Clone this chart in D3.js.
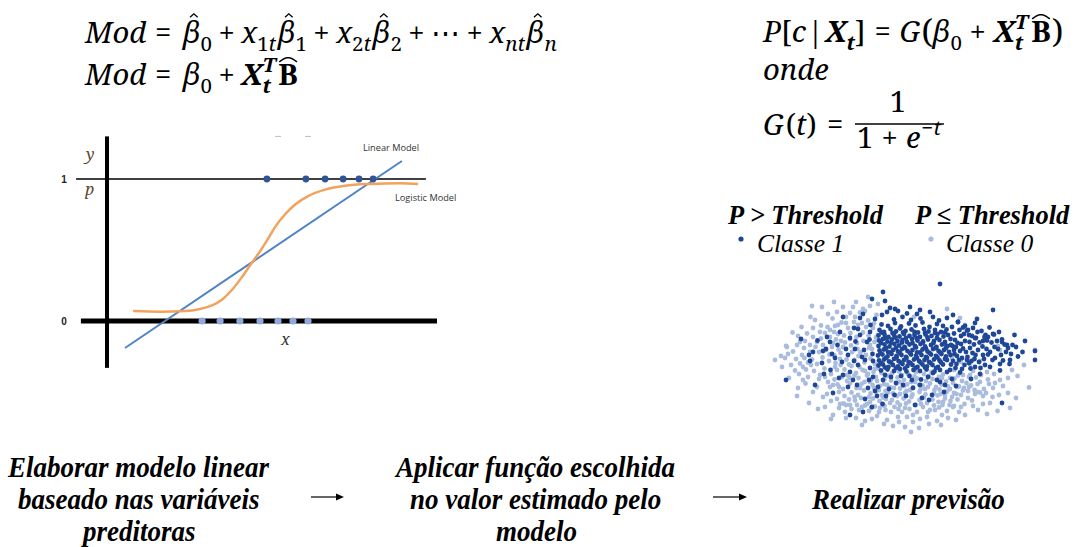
<!DOCTYPE html>
<html>
<head>
<meta charset="utf-8">
<script src="https://cdn.jsdelivr.net/npm/d3@7"></script>
<style>
  html, body { margin: 0; padding: 0; background: #fff; }
  #wrap { position: relative; width: 1075px; height: 547px; overflow: hidden; }
  #fig { position: absolute; left: 0; top: 0; display: block; }
  #txt { position: absolute; left: 0; top: 0; width: 1075px; height: 547px; }
  #txt span { position: absolute; white-space: pre; line-height: 1; }
</style>
</head>
<body>
<div id="wrap">
  <svg id="fig" width="1075" height="547"></svg>
  <div id="txt"></div>
</div>
<script>
// ---------- data ----------
// linear vs. logistic sketch (x in arbitrary units, y as probability)
const probTicks = [0, 1];
const linearFit = [[0.6, -0.19], [9.83, 1.127]];
const logisticFit = [
  [0.87, 0.07], [1.77, 0.066], [2.6, 0.07], [3.1, 0.085], [3.5, 0.11], [3.83, 0.15], [4.17, 0.22],
  [4.5, 0.31], [4.83, 0.41], [5.1, 0.49], [5.37, 0.58], [5.63, 0.67], [5.93, 0.75], [6.27, 0.82],
  [6.7, 0.88], [7.27, 0.925], [7.93, 0.952], [8.77, 0.965], [9.77, 0.97], [10.37, 0.965]
];
const obsClass1 = [5.33, 6.63, 7.27, 7.87, 8.4, 8.87];        // observed y = 1
const obsClass0 = [3.17, 3.77, 4.43, 5.1, 5.7, 6.2, 6.7];    // observed y = 0

// prediction cloud: two features per observation
const classe1Core = [
  [22.3,23.1],[23.6,22.8],[25.0,23.4],[26.2,22.7],[27.8,23.3],[29.1,22.9],[30.5,23.5],[31.9,22.6],[33.4,23.2],[34.6,22.8],
  [21.9,22.0],[22.8,21.6],[24.1,22.2],[25.2,21.7],[26.0,22.3],[27.1,21.8],[28.3,22.1],[29.6,21.5],[30.8,22.2],[31.7,21.7],[33.0,22.0],[34.2,21.6],[35.3,22.1],
  [21.7,20.9],[22.9,21.1],[23.7,20.6],[24.8,21.0],[25.9,20.7],[26.8,21.2],[27.9,20.8],[28.9,21.0],[30.0,20.6],[31.1,21.1],[32.3,20.8],[33.5,21.2],[34.7,20.7],[35.6,21.0],
  [21.8,19.9],[22.6,20.2],[23.5,19.7],[24.4,20.1],[25.5,19.8],[26.5,20.0],[27.4,19.6],[28.4,20.2],[29.5,19.9],[30.6,19.7],[31.6,20.1],[32.8,19.8],[33.9,20.0],[35.0,19.6],[36.1,20.2],
  [21.7,18.8],[22.9,19.1],[23.9,18.7],[24.9,19.2],[25.8,18.9],[26.9,18.6],[27.9,19.1],[29.0,18.8],[30.1,19.2],[31.0,18.7],[32.2,19.0],[33.3,18.6],[34.4,19.1],[35.5,18.8],
  [21.9,17.9],[22.8,18.1],[23.6,17.6],[24.6,18.0],[25.6,17.7],[26.4,18.2],[27.5,17.8],[28.5,18.0],[29.4,17.5],[30.5,18.1],[31.5,17.7],[32.6,18.2],[33.7,17.8],[34.8,18.0],[35.8,17.6],
  [21.6,16.9],[22.5,17.1],[23.5,16.7],[24.3,17.2],[25.3,16.8],[26.3,17.0],[27.2,16.6],[28.2,17.1],[29.2,16.8],[30.3,17.0],[31.2,16.6],[32.2,17.1],[33.2,16.8],[34.3,17.2],[35.2,16.7],
  [21.8,15.9],[22.8,16.1],[23.8,15.7],[24.8,16.2],[25.7,15.8],[26.8,16.0],[27.7,15.6],[28.8,16.1],[29.8,15.8],[30.9,16.0],[31.8,15.6],[32.8,16.1],[33.9,15.9],[35.0,16.2],
  [21.7,14.9],[22.6,15.1],[23.7,14.6],[24.6,15.0],[25.6,14.7],[26.5,15.2],[27.5,14.8],[28.5,15.0],[29.5,14.6],[30.5,15.1],[31.4,14.7],[32.5,15.0],[33.6,14.6],[34.6,15.1],
  [22.2,13.9],[23.5,14.1],[24.8,13.8],[26.0,14.2],[27.3,13.7],[28.7,14.0],[30.0,13.8],[31.3,14.1],[32.9,13.7],[34.0,14.0],
  [22.3,21.5],[24.5,21.4],[26.6,21.5],[28.9,21.6],[31.0,21.4],[33.0,21.4],[35.0,21.5],
  [23.0,20.4],[25.1,20.5],[27.2,20.4],[29.3,20.4],[31.5,20.5],[33.4,20.4],
  [22.2,19.4],[24.2,19.4],[26.4,19.5],[28.5,19.4],[30.6,19.5],[32.7,19.4],[34.9,19.3],
  [23.2,18.4],[25.2,18.4],[27.0,18.4],[29.2,18.5],[31.2,18.3],[33.1,18.4],[35.2,18.4],
  [22.1,17.4],[24.0,17.5],[26.0,17.4],[28.0,17.4],[30.0,17.5],[31.9,17.4],[34.0,17.5],
  [23.2,16.4],[25.3,16.5],[27.3,16.4],[29.4,16.4],[31.4,16.4],[33.5,16.5],[35.4,16.0],
  [22.2,15.4],[24.2,15.5],[26.1,15.5],[28.1,15.4],[30.1,15.5],[32.1,15.4],[34.2,15.5],
  [23.0,14.5],[25.2,14.4],[27.0,14.3],[29.1,14.4],[31.0,14.5],[33.2,14.4]
];
const classe1Upper = [
  [22.6,29.6],[20.4,28.2],[23,27.8],[24,26.4],[25,26.2],[23.4,25.6],[22.4,25],[34,31.2],[28,26.6],[30,26],[32,25.6],
  [36.6,25],[44.6,26],[41.4,24.2],[32.6,24.6],[35.4,24.4],[37.6,23.6],[39.6,22],[43.6,20.6],[44.6,21.2],[46.4,19.6],
  [47.4,19],[41,20.4],[26.5,24.6],[28.2,24.0],[30.1,24.3],[24.8,24.1],[27.4,25.3],[33.8,23.9],[21.0,24.2],[20.1,23.0],
  [25.6,25.8],[29.4,25.2]
];
const classe1Right = [
  [36.8,21.3],[37.5,19.4],[38.2,20.8],[36.9,17.2],[37.8,16.0],[38.6,18.3],[39.4,21.9],[39.9,19.6],[40.5,17.4],[41.2,20.4],
  [41.8,15.6],[42.5,18.7],[43.1,21.0],[43.6,17.1],[44.3,19.5],[45.0,16.4],[45.6,18.2],[46.4,20.1],[47.2,17.6],[47.9,15.2],
  [48.5,19.0],[49.6,16.7],[36.2,15.1],[37.1,14.4],[38.9,15.0],[40.1,14.3],[42.0,13.2],[44.0,14.6],[46.0,13.9],[39.0,22.8],
  [41.0,23.4],[43.9,22.5],[45.8,21.6],[37.6,23.6],[36.5,18.8],[38.0,17.8],[40.8,19.1],[42.8,16.2],[44.8,21.1],[46.9,19.1],
  [48.9,21.0],[50.5,17.6],[51.0,19.8],[39.5,16.6],[41.5,21.6],[43.4,19.9],[36.4,22.6],[37.0,20.0],[36.8,18.0],[37.4,16.8],
  [36.6,15.8],[38.2,19.2],[38.8,21.2],[39.2,17.6],[39.8,15.4],[40.4,20.8],[40.0,18.4],[41.6,18.0],[41.9,19.5],[42.3,21.8],
  [43.0,15.0],[38.4,14.2],[36.0,14.0],[37.9,22.0],[40.9,16.2],[42.1,14.4],[53,17.8],[53,16],[46,15.2],[48,16],
  [42.6,17],[44,17.6],[39.4,16],[41,14.6],
  [36.2,19.0],[37.2,18.6],[38.4,16.4],[39.0,19.8],[40.3,15.8],[41.1,17.0],[42.6,19.8],[43.3,18.2],[44.5,16.0],[45.4,19.8],
  [46.2,17.0],[47.6,18.4],[48.2,17.2],[49.2,18.6],[36.1,17.0],[37.3,15.2],[39.8,21.0],[42.9,20.6],[44.9,18.6],[46.6,15.9],
  [38.6,22.5],[40.6,22.4]
];
const classe1Scattered = [
  [14.6,24.6],[18,24.4],[18.6,25.2],[16.8,22.4],[17.6,22.2],[11.4,20.6],[20,21.6],[16,20.4],[19.4,19.6],[3.2,12],
  [7.8,17],[10.4,15.4],[8.6,17.6],[12.6,9.4],[15.6,10.6],[16,5],[18.6,5.6],[16.6,12],[19.6,10.4],[20.6,12.6],
  [14.4,15.6],[17.6,15],[16,13.6],[18.4,16.6],[20,14.4],[23,13],[21.6,10.6],[12.4,17.2],[13.5,19.0],[15.2,18.2],
  [18.8,18.0],[20.5,17.2],[19.9,20.1],[17.1,19.7],[11.2,18.2],[9.5,19.9],[14.0,21.6],[12.1,14.0],[13.8,12.4],[19.0,8.2],
  [21.4,8.8],[23.8,10.2],[25.2,11.4],[22.5,7.2],[24.9,9.0],[9.0,11.0],[10.8,13.2],[46.4,7.4],[35.4,13.6],[34,11.6],
  [32.4,9],[30.4,8.4],[26.6,11],[28.6,10.4],[32.6,13.4],[36.4,12.2],[38.0,13.5],[30.2,12.1],[27.9,12.8],[29.0,7.0],
  [34.8,9.6],[37.2,10.8],[40.2,12.2],
  [13.0,16.4],[15.6,17.0],[17.0,18.2],[18.0,21.0],[19.0,16.0],[20.6,15.8],[16.8,15.8],[14.6,13.0],[17.4,11.0],[19.8,12.0],
  [21.0,9.8],[22.6,12.0],[24.2,12.6],[26.2,12.8],[28.4,12.0],[30.0,11.0],[31.6,12.6],[33.4,12.0],[35.0,11.0],[20.4,6.6],
  [23.2,8.8],[27.2,8.8],[31.8,8.0],[10.6,17.8],[12.0,19.6],[8.0,15.8],[6.2,20.2]
];
const classe0Left = [
  [3.2,18.8],[5.6,20.8],[5.4,19],[7,19.8],[8.6,22.4],[9,24],[11.6,25.2],[14.6,26.6],[16.6,26.6],[19,25.8],
  [15.2,24.6],[17,24.6],[13.6,23],[12,22],[11,21.4],[13.6,21.2],[15.6,22.4],[18.4,23.4],[20.6,22.4],[9.4,19.6],
  [8,19],[12.6,19.4],[14.6,18.6],[17.4,19.4],[20,19],[21.6,21],[1,16],[3,16.4],[3.4,18.6],[6.4,17],
  [8,17.6],[6.6,12],[5.6,10.4],[8.6,9.6],[10.6,8.6],[11.6,11.6],[10,13],[13.4,14],[11,6.6],[12.6,5],
  [15,5.6],[17.4,7],[20,7.6],[22,6.4],[24,7.4],[26.4,5.6],[25.6,4.6],
  [10.5,16.5],[11.8,15.8],[12.9,16.9],[14.1,17.4],[15.3,16.1],[16.4,17.6],[17.7,16.8],[18.9,15.5],[20.1,16.3],[21.0,15.2],
  [11.2,18.0],[12.4,18.6],[13.7,18.1],[15.0,19.5],[16.2,18.9],[17.5,18.2],[18.7,19.8],[19.8,18.4],[20.9,19.6],
  [10.2,20.3],[12.0,20.6],[13.2,20.1],[14.8,20.9],[16.1,21.4],[17.3,20.6],[18.6,21.5],[19.7,20.9],[21.2,20.5],
  [11.5,22.6],[13.0,22.8],[14.3,23.5],[16.8,23.6],[19.6,23.9],[20.8,23.3],[12.5,24.3],[18.0,25.5],[21.3,25.0],[20.0,26.8],
  [10.9,14.3],[12.2,13.2],[14.9,14.1],[16.3,14.8],[17.2,13.4],[18.5,14.0],[19.4,12.9],[20.7,13.6],
  [9.4,15.2],[8.8,13.8],[7.6,15.5],[7.2,14.1],[6.0,15.3],[5.0,13.9],[4.2,15.0],[2.4,14.6],[4.6,17.7],[6.8,18.4],
  [9.8,17.6],[7.4,21.3],[10.2,22.9],[6.3,22.6],[8.1,24.6],[4.5,21.5],[3.8,12.4],[5.4,8.8],[7.1,11.3],[9.4,10.6],
  [7.8,7.4],[9.6,6.2],[12.2,4.2],
  [5.2,16.2],[6.9,16.4],[8.4,16.1],[9.1,18.6],[10.6,19.0],[11.9,17.1],[13.1,15.4],[14.0,16.2],[15.8,15.1],[16.9,16.0],
  [18.1,17.5],[19.2,17.0],[20.4,18.2],[16.0,20.2],[14.2,19.8],[12.8,21.6],[15.2,23.4],[17.6,23.0],[19.2,22.6],[10.0,21.6],
  [8.6,20.6],[6.0,19.6],[7.6,12.6],[8.2,15.0],[9.8,12.2],[11.0,12.6],[12.6,11.0],[13.8,10.6],[15.4,13.0],[17.9,14.6],
  [19.0,13.8],[20.0,11.6],[21.2,12.6],[14.1,15.0],[13.0,14.6],[15.9,12.5],[5.8,13.2],[6.6,14.6],[3.6,17.2],[2.2,16.8],
  [18.6,26.2],[16.0,25.4],[13.4,25.6],[10.4,26.6],[12.8,27.6],[8.4,26.8],[21.6,27.2],[19.6,28.6],[17.2,27.6]
];
const classe0Lower = [
  [21.0,14.2],[22.3,13.4],[24.4,13.3],[25.8,13.7],[27.6,13.2],[29.2,13.6],[30.8,13.2],[32.3,13.6],[34.6,13.1],[36.8,14.0],
  [38.6,13.0],[40.6,13.8],[42.2,13.0],[44.8,13.2],
  [12.9,12.1],[14.4,12.6],[15.4,11.8],[17.7,12.4],[18.9,11.6],[20.2,12.1],[21.4,11.8],[22.9,12.2],[24.2,11.9],[25.5,12.5],
  [26.8,12.0],[28.2,11.6],[29.4,12.3],[31.2,11.8],[32.5,12.2],[33.8,12.6],[35.2,11.7],[36.9,12.3],[38.4,11.8],[39.8,12.6],
  [41.2,12.5],[43.6,12.1],[45.0,11.4],
  [12.0,10.6],[13.5,11.1],[14.6,10.2],[16.0,11.3],[17.3,10.4],[18.3,11.2],[20.5,11.0],[21.8,10.0],[22.8,11.2],[24.1,10.5],
  [26.0,10.3],[27.4,11.1],[29.8,11.0],[31.0,10.2],[32.0,11.3],[33.2,10.6],[35.6,10.7],[36.6,11.4],[38.8,10.4],[40.2,10.9],
  [42.8,10.2],[43.8,11.2],
  [11.4,9.2],[13.8,9.6],[14.9,8.8],[16.3,9.5],[17.6,9.0],[18.8,9.9],[20.1,9.3],[21.2,9.7],[22.4,9.0],[23.6,9.5],
  [24.8,10.4],[26.0,9.2],[27.3,9.8],[28.5,9.1],[29.9,9.6],[31.1,9.1],[32.9,10.0],[34.1,9.2],[35.4,9.7],[36.8,9.4],
  [38.2,9.0],[39.6,9.8],[41.0,9.2],[42.6,8.8],
  [12.2,7.8],[13.4,8.2],[14.7,7.3],[15.8,8.1],[17.0,7.9],[18.2,8.4],[19.4,7.2],[20.6,8.3],[21.9,7.8],[23.2,8.2],
  [24.4,8.0],[25.5,7.5],[26.7,8.3],[27.8,7.7],[29.9,8.0],[31.4,7.4],[32.5,8.1],[33.7,7.6],[35.0,8.3],[36.1,7.8],
  [37.5,8.1],[38.9,7.2],[40.4,7.9],
  [13.8,6.4],[16.3,6.2],[18.4,6.6],[19.8,5.8],[21.0,6.7],[23.1,6.0],[24.9,6.6],[26.0,7.0],[27.9,6.2],[30.6,6.6],
  [32.0,6.0],[33.8,6.5],[35.4,5.8],[36.8,6.8],[37.8,5.6],[41.6,6.0],[43.4,5.2],
  [17.2,4.4],[19.0,3.8],[21.4,4.8],[23.4,4.0],[28.6,3.6],[30.0,4.2],[33.4,3.8],[35.6,4.4],[27.0,2.6],[29.8,2.4],[24.6,2.8],
  [19.6,13.2],[23.6,12.8],[26.4,13.0],[28.9,12.7],[31.8,12.8],[34.4,12.4],[37.6,12.9],[23.4,11.0],[25.3,11.3],[28.6,10.5],
  [30.5,10.9],[34.3,11.1],[37.8,10.7],[16.9,8.6],[19.8,8.6],[22.6,8.5],[25.4,8.8],[28.3,8.6],[30.8,8.5],[33.5,8.9],
  [36.4,8.6],[15.2,7.0],[22.6,7.1],[29.2,7.0],[34.5,7.0],[39.8,10.6],[41.5,11.2],[18.0,10.4],[26.8,10.8],[16.9,12.9],
  [20.8,10.4],[22.0,10.8],[23.1,9.8],[24.6,9.3],[25.9,11.6],[27.0,9.4],[28.0,10.0],[29.0,11.6],[30.1,10.1],[31.6,10.6],
  [32.8,9.3],[33.9,10.1],[35.0,9.0],[36.0,10.2],[37.3,9.2],[38.6,9.9],[39.3,11.4],[40.9,10.0],[42.0,9.5],[43.2,9.4],
  [44.5,8.6],[45.8,9.0],[46.6,10.8],[14.0,7.2],[16.0,7.0],[17.8,6.0],[19.0,6.9],[20.2,6.4],[21.8,5.6],[22.9,6.8],
  [24.2,5.6],[25.7,6.2],[27.2,7.3],[28.6,5.0],[30.2,7.2],[31.6,5.6],[32.8,6.9],[34.4,5.0],[35.9,7.0],[38.2,6.6],
  [40.6,6.8],[42.6,7.2],[20.4,4.2],[22.8,3.2],[25.8,3.6],[31.8,3.2],[34.2,3.0],[37.2,4.0],[18.4,3.0],[15.2,4.4],
  [28.2,1.6],[21.6,14.4]
];
const classe0Right = [
  [46,18],[47.6,12.4],[47.6,9.4],[46,12],[44.6,10.4],[44,7.4],[42,11.6],[41.4,9.6],[39.6,8.4],[39,5],
  [36.6,6.6],[34.6,7.6],[33,6],[31.4,4.6],[29.4,5.6],[27.4,4.6],[27,6.4],[37.4,10.6],[36,12.4],[40,13],
  [43.4,13.6],[45.6,18.8],[53,18],[35.4,26.2],[38,24.4],[39,23],[28.8,24.6],[49.5,12.8],[50.8,15.0],[48.4,14.0],
  [51.8,10.5],[49.2,8.4],[45.5,5.8],[48.0,6.4],[40.0,15.2],[42.0,15.8],[38.2,15.6],[36.4,16.4]
];

// flow of the method, one entry per step
const stepLines = [
  ["Elaborar modelo linear", "baseado nas variáveis", "preditoras"],
  ["Aplicar função escolhida", "no valor estimado pelo", "modelo"],
  ["Realizar previsão"]
];

// ---------- styles ----------
const MATH_FONT = "'Noto Serif', 'Liberation Serif', serif";
const TIMES = "'Liberation Serif', serif";
const DARK = "#1f4798";
const LIGHT = "#a9bcde";

const svg = d3.select("#fig");
const layer = d3.select("#txt");

// Place a run of text with its baseline at (x, y); returns the advance width.
function put(x, y, str, o = {}) {
  const s = layer.append("span")
    .style("font-family", o.font || MATH_FONT)
    .style("font-size", o.size + "px")
    .style("font-style", o.italic ? "italic" : "normal")
    .style("font-weight", o.bold ? "bold" : "normal")
    .style("color", o.color || "#000");
  s.append("span").style("position", "static").text(str);
  const mark = s.append("i").style("display", "inline-block").style("width", "0px").style("height", "0px");
  const r = s.node().getBoundingClientRect();
  const m = mark.node().getBoundingClientRect();
  const base = m.top - r.top;
  const w = m.left - r.left;
  const k = o.scaleX || 1;
  let left = x;
  if (o.anchor === "middle") left = x - (w * k) / 2;
  s.style("left", left + "px").style("top", (y - base) + "px");
  if (k !== 1) s.style("transform", `scaleX(${k})`).style("transform-origin", "0 0");
  if (o.dry) s.remove();
  return w * k;
}

// ---------- formula layout helper ----------
function mathRow(x0, y0, fs, parts, dry = false) {
  let x = x0, supX = null, supW = 0;
  for (const p of parts) {
    x += (p.gapL || 0) * fs;
    const small = p.s === "sub" || p.s === "sup";
    const size = small ? fs * 0.7 : fs * (p.scale || 1);
    const dy = p.s === "sub" ? fs * 0.27 : p.s === "sup" ? -fs * 0.44 : (p.dy || 0) * fs;
    const xs = p.stack ? supX : x;
    const f = p.f || "";
    const w = put(xs, y0 + dy, p.t, { size, italic: f.includes("i"), bold: f.includes("b"), dry });
    if (!dry && p.hat === "n") {
      const cx = xs + w * 0.62, top = y0 - fs * 1.0;
      svg.append("path")
        .attr("d", `M${cx - fs * 0.13},${top + fs * 0.12} L${cx},${top} L${cx + fs * 0.13},${top + fs * 0.12}`)
        .attr("fill", "none").attr("stroke", "#000").attr("stroke-width", 1.3);
    } else if (!dry && p.hat === "w") {
      const top = y0 - fs * 0.93, l = xs + 1, r = xs + w - 1, cx = (l + r) / 2;
      svg.append("path")
        .attr("d", `M${l},${top + fs * 0.14} Q${cx - fs * 0.1},${top - fs * 0.02} ${cx},${top} Q${cx + fs * 0.1},${top - fs * 0.02} ${r},${top + fs * 0.14}`)
        .attr("fill", "none").attr("stroke", "#000").attr("stroke-width", 1.5);
    }
    if (p.s === "sup") { supX = xs; supW = w; }
    x = p.stack ? Math.max(supX + supW, xs + w) : xs + w;
    x += (p.gapR || 0) * fs;
  }
  return x;
}
const op = (t, gap = 0.22) => ({ t, gapL: gap, gapR: gap });

// ---------- top-left formulas ----------
const modelSum = [
  { t: "Mod", f: "i" }, { t: "=", gapL: 0.3, gapR: 0.4 },
  { t: "β", f: "i", hat: "n" }, { t: "0", s: "sub" }, op("+"),
  { t: "x", f: "i" }, { t: "1", s: "sub" }, { t: "t", s: "sub", f: "i" },
  { t: "β", f: "i", hat: "n", gapL: 0.06 }, { t: "1", s: "sub" }, op("+"),
  { t: "x", f: "i" }, { t: "2", s: "sub" }, { t: "t", s: "sub", f: "i" },
  { t: "β", f: "i", hat: "n", gapL: 0.06 }, { t: "2", s: "sub" }, op("+"),
  { t: "⋯" }, op("+"),
  { t: "x", f: "i" }, { t: "n", s: "sub", f: "i" }, { t: "t", s: "sub", f: "i" },
  { t: "β", f: "i", hat: "n", gapL: 0.06 }, { t: "n", s: "sub", f: "i" }
];
// size the equations so the long sum spans its column
const fs0 = 27;
const natural = mathRow(85, 43, fs0, modelSum, true) - 85;
const FS = Math.max(22, Math.min(31, fs0 * 472 / natural));

mathRow(85, 43, FS, modelSum);
mathRow(85, 85, FS, [
  { t: "Mod", f: "i" }, { t: "=", gapL: 0.3, gapR: 0.4 },
  { t: "β", f: "i" }, { t: "0", s: "sub" }, op("+"),
  { t: "X", f: "bi" }, { t: "T", s: "sup", f: "bi" }, { t: "t", s: "sub", f: "bi", stack: true },
  { t: "B", f: "b", hat: "w", gapL: 0.08 }
]);

// ---------- top-right formulas ----------
mathRow(763, 42, FS, [
  { t: "P", f: "i" }, { t: "[" }, { t: "c", f: "i" }, { t: "|", gapL: 0.05, gapR: 0.05 },
  { t: "X", f: "bi" }, { t: "t", s: "sub", f: "bi" }, { t: "]" },
  { t: "=", gapL: 0.3, gapR: 0.3 },
  { t: "G", f: "i" }, { t: "(", scale: 1.12, dy: 0.03, gapL: 0.04 },
  { t: "β", f: "i" }, { t: "0", s: "sub" }, op("+", 0.26),
  { t: "X", f: "bi" }, { t: "T", s: "sup", f: "bi" }, { t: "t", s: "sub", f: "bi", stack: true },
  { t: "B", f: "b", hat: "w", gapL: 0.1 }, { t: ")", scale: 1.12, dy: 0.03, gapL: 0.04 }
]);
mathRow(763, 80, FS, [{ t: "onde", f: "i" }]);
const gEnd = mathRow(763, 135, FS, [
  { t: "G", f: "i" }, { t: "(", gapL: 0.06 }, { t: "t", f: "i" }, { t: ")" }, { t: "=", gapL: 0.35, gapR: 0.4 }
]);
// fraction 1 / (1 + e^-t)
{
  const denEnd = mathRow(gEnd + 2, 148, FS, [
    { t: "1" }, op("+", 0.28), { t: "e", f: "i" }, { t: "−", s: "sup", gapL: 0.04 }, { t: "t", s: "sup", f: "i" }
  ]);
  svg.append("line").attr("x1", gEnd).attr("x2", denEnd + 3)
    .attr("y1", 124).attr("y2", 124).attr("stroke", "#000").attr("stroke-width", 1.6);
  put((gEnd + denEnd) / 2, 112, "1", { size: FS, anchor: "middle" });
}

// ---------- linear vs logistic sketch ----------
const cx = d3.scaleLinear().domain([0, 11]).range([107, 437]);
const cy = d3.scaleLinear().domain([0, 1]).range([321, 179]);
const ch = svg.append("g");

// p = 1 reference line and thick x axis at p = 0
ch.append("line").attr("x1", cx(-1.03)).attr("x2", cx(10.63))
  .attr("y1", cy(1)).attr("y2", cy(1)).attr("stroke", "#000").attr("stroke-width", 1.4);
ch.append("line").attr("x1", cx(-0.87)).attr("x2", cx(11))
  .attr("y1", cy(0)).attr("y2", cy(0)).attr("stroke", "#000").attr("stroke-width", 5);
// vertical axis
ch.append("line").attr("x1", cx(0)).attr("x2", cx(0))
  .attr("y1", cy(1.3)).attr("y2", cy(-0.33)).attr("stroke", "#000").attr("stroke-width", 4);
// faint marks near the top of the axis
[[5.6, 5.8], [6.6, 6.8]].forEach(([a, b]) =>
  ch.append("line").attr("x1", cx(a)).attr("x2", cx(b)).attr("y1", cy(1.3)).attr("y2", cy(1.3))
    .attr("stroke", "#bbb").attr("stroke-width", 1));

// tick labels
ch.selectAll("text.tick").data(probTicks).join("text")
  .attr("class", "tick")
  .attr("x", 64).attr("y", d => cy(d) + 4)
  .attr("text-anchor", "middle")
  .style("font-family", "'Liberation Sans', Arial, sans-serif")
  .style("font-weight", "bold").style("font-size", "10px").attr("fill", "#222")
  .text(d => d);

// axis letters
put(86, 160, "y", { size: 16, italic: true, color: "#5e4630" });
put(85, 195, "p", { size: 16, italic: true, color: "#5e4630" });
put(281, 345, "x", { size: 16, italic: true, color: "#333" });

// fitted models
ch.append("path").datum(linearFit)
  .attr("d", d3.line().x(d => cx(d[0])).y(d => cy(d[1])))
  .attr("fill", "none").attr("stroke", "#4f83c4").attr("stroke-width", 2);
ch.append("path").datum(logisticFit)
  .attr("d", d3.line().x(d => cx(d[0])).y(d => cy(d[1])).curve(d3.curveMonotoneX))
  .attr("fill", "none").attr("stroke", "#f2a25d").attr("stroke-width", 2.5);

// observations
ch.selectAll("circle.c1").data(obsClass1).join("circle")
  .attr("class", "c1").attr("cx", d => cx(d)).attr("cy", cy(1)).attr("r", 3.4).attr("fill", "#2f5597");
ch.selectAll("circle.c0").data(obsClass0).join("circle")
  .attr("class", "c0").attr("cx", d => cx(d)).attr("cy", cy(0)).attr("r", 3.6).attr("fill", "#8eaadb");

// model labels
const modelLabel = (t, x, y) => ch.append("text").attr("x", x).attr("y", y)
  .style("font-family", "'Open Sans', sans-serif").style("font-size", "9.2px")
  .attr("fill", "#333").text(t);
modelLabel("Linear Model", 363, 151);
modelLabel("Logistic Model", 395, 201);

// ---------- legend ----------
put(728, 224, "P > Threshold", { font: TIMES, size: 26.4, bold: true, italic: true });
put(915, 224, "P ≤ Threshold", { font: TIMES, size: 26.4, bold: true, italic: true });
svg.append("circle").attr("cx", 741).attr("cy", 239).attr("r", 2.6).attr("fill", DARK);
put(757, 252, "Classe 1", { font: TIMES, size: 25.5, italic: true });
svg.append("circle").attr("cx", 931).attr("cy", 239).attr("r", 2.6).attr("fill", LIGHT);
put(946, 252, "Classe 0", { font: TIMES, size: 25.5, italic: true });

// ---------- prediction cloud ----------
const sx = d3.scaleLinear().domain([0, 55]).range([770, 1045]);
const sy = d3.scaleLinear().domain([0, 33]).range([440, 275]);
const cloud = svg.append("g");
const classe0 = [...classe0Left, ...classe0Lower, ...classe0Right];
const classe1 = [...classe1Core, ...classe1Upper, ...classe1Right, ...classe1Scattered];
cloud.selectAll("circle.p0").data(classe0).join("circle")
  .attr("class", "p0").attr("cx", d => sx(d[0])).attr("cy", d => sy(d[1]))
  .attr("r", 2.4).attr("fill", LIGHT);
cloud.selectAll("circle.p1").data(classe1).join("circle")
  .attr("class", "p1").attr("cx", d => sx(d[0])).attr("cy", d => sy(d[1]))
  .attr("r", 2.4).attr("fill", DARK);

// ---------- method steps ----------
const stepX = [139, 536, 908];
const stepTop = [477, 477, 509];
stepLines.forEach((lines, i) => {
  lines.forEach((ln, j) => {
    put(stepX[i], stepTop[i] + j * 32, ln,
      { font: TIMES, size: 30, bold: true, italic: true, anchor: "middle", scaleX: 0.9 });
  });
});
// arrows between steps
[[311, 344], [713, 747]].forEach(([a, b]) => {
  svg.append("line").attr("x1", a).attr("x2", b - 6).attr("y1", 497).attr("y2", 497)
    .attr("stroke", "#000").attr("stroke-width", 1.2);
  svg.append("path").attr("d", `M${b},497 L${b - 8},493.5 L${b - 8},500.5 Z`).attr("fill", "#000");
});
</script>
</body>
</html>
